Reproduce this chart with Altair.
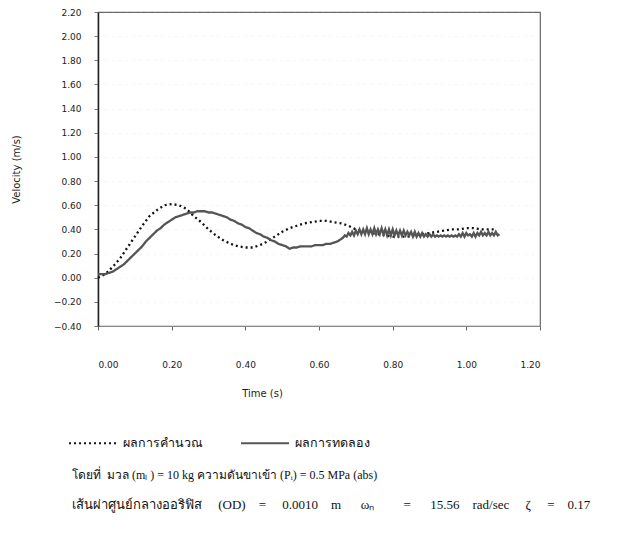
import altair as alt
import pandas as pd

# ---- data ----
calc_t = [0.00, 0.02, 0.04, 0.06, 0.08, 0.10, 0.12, 0.14, 0.16, 0.18, 0.20, 0.22, 0.24, 0.26,
          0.28, 0.30, 0.32, 0.34, 0.36, 0.38, 0.40, 0.42, 0.44, 0.46, 0.48, 0.50, 0.52, 0.54,
          0.56, 0.58, 0.60, 0.62, 0.64, 0.66, 0.68, 0.70, 0.72, 0.74, 0.76, 0.78, 0.80, 0.82,
          0.84, 0.86, 0.88, 0.90, 0.92, 0.94, 0.96, 0.98, 1.00, 1.02, 1.04, 1.06, 1.08]
calc_v = [0.00, 0.03, 0.09, 0.16, 0.25, 0.34, 0.43, 0.51, 0.56, 0.60, 0.61, 0.60, 0.57, 0.51,
          0.46, 0.40, 0.35, 0.31, 0.28, 0.26, 0.25, 0.25, 0.27, 0.30, 0.34, 0.38, 0.41, 0.43,
          0.45, 0.46, 0.47, 0.47, 0.46, 0.45, 0.43, 0.40, 0.38, 0.37, 0.36, 0.35, 0.34, 0.34,
          0.34, 0.35, 0.36, 0.37, 0.38, 0.39, 0.40, 0.40, 0.41, 0.41, 0.40, 0.40, 0.40]

exp_t = [0.00, 0.01, 0.02, 0.03, 0.04, 0.05, 0.06, 0.07, 0.08, 0.09, 0.10, 0.11, 0.12, 0.13,
         0.14, 0.15, 0.16, 0.17, 0.18, 0.19, 0.20, 0.21, 0.22, 0.23, 0.24, 0.25, 0.26, 0.27,
         0.28, 0.29, 0.30, 0.31, 0.32, 0.33, 0.34, 0.35, 0.36, 0.37, 0.38, 0.39, 0.40, 0.41,
         0.42, 0.43, 0.44, 0.45, 0.46, 0.47, 0.48, 0.49, 0.50, 0.51, 0.52, 0.53, 0.54, 0.55,
         0.56, 0.57, 0.58, 0.59, 0.60, 0.61, 0.62, 0.63, 0.64, 0.65, 0.66,
         0.665, 0.670, 0.675, 0.680, 0.685, 0.690, 0.695, 0.700, 0.705, 0.710, 0.715, 0.720,
         0.725, 0.730, 0.735, 0.740, 0.745, 0.750, 0.755, 0.760, 0.765, 0.770, 0.775, 0.780,
         0.785, 0.790, 0.795, 0.800, 0.805, 0.810, 0.815, 0.820, 0.825, 0.830, 0.835, 0.840,
         0.845, 0.850, 0.855, 0.860, 0.865, 0.870, 0.875, 0.880, 0.885, 0.890, 0.895, 0.900,
         0.905, 0.910, 0.915, 0.920, 0.925, 0.930, 0.935, 0.940, 0.945, 0.950, 0.955, 0.960,
         0.965, 0.970, 0.975, 0.980, 0.985, 0.990, 0.995, 1.000, 1.005, 1.010, 1.015, 1.020,
         1.025, 1.030, 1.035, 1.040, 1.045, 1.050, 1.055, 1.060, 1.065, 1.070, 1.075, 1.080,
         1.085, 1.090]
exp_v = [0.03, 0.03, 0.03, 0.04, 0.05, 0.07, 0.09, 0.11, 0.14, 0.17, 0.20, 0.23, 0.26, 0.30,
         0.33, 0.36, 0.39, 0.41, 0.44, 0.46, 0.48, 0.50, 0.51, 0.52, 0.53, 0.54, 0.54, 0.55,
         0.55, 0.55, 0.54, 0.54, 0.53, 0.52, 0.51, 0.50, 0.48, 0.47, 0.45, 0.44, 0.42, 0.41,
         0.39, 0.37, 0.36, 0.34, 0.33, 0.31, 0.30, 0.28, 0.27, 0.26, 0.24, 0.25, 0.25, 0.26,
         0.26, 0.26, 0.26, 0.27, 0.27, 0.27, 0.28, 0.28, 0.29, 0.30, 0.32,
         0.33, 0.35, 0.34, 0.37, 0.35, 0.38, 0.35, 0.39, 0.36, 0.40, 0.36, 0.40,
         0.36, 0.41, 0.36, 0.40, 0.36, 0.41, 0.36, 0.40, 0.36, 0.41, 0.36, 0.40,
         0.35, 0.40, 0.35, 0.40, 0.35, 0.39, 0.35, 0.39, 0.35, 0.39, 0.35, 0.38,
         0.35, 0.38, 0.34, 0.38, 0.34, 0.37, 0.34, 0.37, 0.34, 0.36, 0.34, 0.36,
         0.34, 0.36, 0.34, 0.35, 0.34, 0.35, 0.34, 0.35, 0.34, 0.35, 0.34, 0.35,
         0.34, 0.35, 0.34, 0.36, 0.34, 0.37, 0.34, 0.37, 0.35, 0.36, 0.34, 0.37,
         0.34, 0.37, 0.35, 0.38, 0.35, 0.37, 0.35, 0.38, 0.35, 0.37, 0.35, 0.38,
         0.35, 0.36]

series_names = ["ผลการคำนวณ", "ผลการทดลอง"]
series_colors = ["#111111", "#555555"]
series_dash = [[2, 3], [1, 0]]

x_ticks = [0.0, 0.2, 0.4, 0.6, 0.8, 1.0, 1.2]
y_ticks = [-0.4, -0.2, 0.0, 0.2, 0.4, 0.6, 0.8, 1.0, 1.2, 1.4, 1.6, 1.8, 2.0, 2.2]

NB = "\u00a0"
note_line_1 = "โดยที่" + NB * 2 + "มวล (mₗ ) = 10 kg ความดันขาเข้า (Pᵢ) = 0.5 MPa (abs)"
note_line_2 = ("เส้นผ่าศูนย์กลางออริฟิส" + NB * 5 + "(OD)" + NB * 4 + "=" + NB * 5 + "0.0010"
               + NB * 4 + "m" + NB * 6 + "ωₙ" + NB * 9 + "=" + NB * 6 + "15.56" + NB * 4
               + "rad/sec" + NB * 5 + "ζ" + NB * 5 + "=" + NB * 4 + "0.17")

# ---- build table ----
df = pd.concat([
    pd.DataFrame({"t": calc_t, "v": calc_v, "series": series_names[0], "order": range(len(calc_t))}),
    pd.DataFrame({"t": exp_t, "v": exp_v, "series": series_names[1], "order": range(len(exp_t))}),
])

W, H = 442, 314
FONT = "DejaVu Sans"
SERIF = "Liberation Serif"

lines = alt.Chart(df).mark_line(strokeWidth=2.3).encode(
    x=alt.X("t:Q", scale=alt.Scale(domain=[0, 1.2], nice=False),
            axis=alt.Axis(title="Time (s)", values=x_ticks, format=".2f",
                          labelPadding=30, titlePadding=19, titleX=164,
                          domainColor="#888888", tickColor="#666666", tickSize=4,
                          grid=False)),
    y=alt.Y("v:Q", scale=alt.Scale(domain=[-0.4, 2.2], nice=False),
            axis=alt.Axis(title="Velocity (m/s)", values=y_ticks, format=".2f",
                          labelPadding=13, titlePadding=32,
                          domainColor="#222222", domainWidth=1.5,
                          tickColor="#777777", tickSize=4,
                          gridColor="#bbbbbb", gridDash=[1, 6], gridOpacity=0.35)),
    color=alt.Color("series:N",
                    scale=alt.Scale(domain=series_names, range=series_colors),
                    legend=alt.Legend(title=None, orient="none", legendX=-30, legendY=406,
                                      direction="horizontal", symbolType="stroke",
                                      symbolSize=2300, symbolStrokeWidth=1.8,
                                      labelFont=SERIF, labelFontSize=12.5, labelColor="#111",
                                      labelOffset=5, columnPadding=34)),
    strokeDash=alt.StrokeDash("series:N",
                              scale=alt.Scale(domain=series_names, range=series_dash),
                              legend=None),
    order="order:Q",
)

note1 = alt.Chart(pd.DataFrame({"text": [note_line_1]})).mark_text(
    align="left", baseline="middle", font=SERIF, fontSize=12, color="#111"
).encode(x=alt.value(-26), y=alt.value(463), text="text:N")

note2 = alt.Chart(pd.DataFrame({"text": [note_line_2]})).mark_text(
    align="left", baseline="middle", font=SERIF, fontSize=13, color="#111"
).encode(x=alt.value(-26), y=alt.value(493), text="text:N")

chart = alt.layer(lines, note1, note2).properties(
    width=W, height=H,
    autosize=alt.AutoSizeParams(type="none"),
    padding={"left": 90, "top": 4, "right": 70, "bottom": 190},
).configure_view(stroke="#666666", strokeWidth=1.2).configure_axis(
    labelFont=FONT, labelFontSize=9, labelColor="#222",
    titleFont=FONT, titleFontSize=10, titleFontWeight="normal", titleColor="#222",
)

chart.save("out.html", embed_options={"renderer": "svg", "actions": False})
